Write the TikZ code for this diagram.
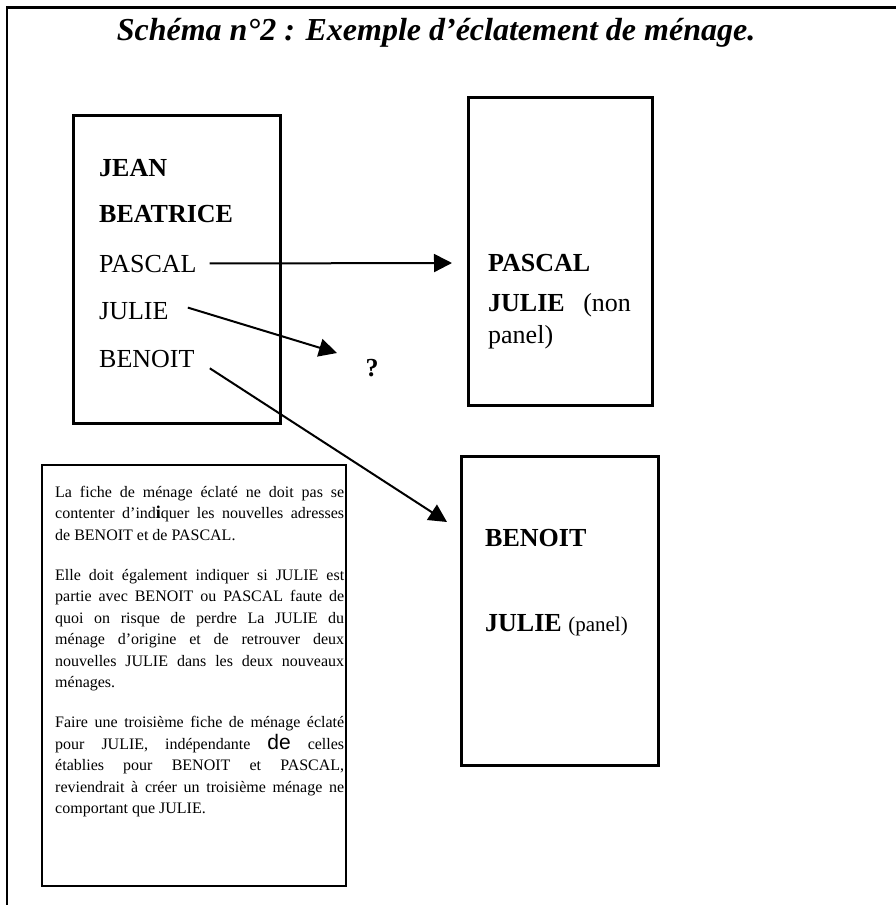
\documentclass[tikz,border=0pt]{standalone}
\usepackage{fontspec}
\setmainfont{Liberation Serif}
\setsansfont{Liberation Sans}
\usetikzlibrary{arrows.meta}
\begin{document}
\begin{tikzpicture}[x=1pt,y=-1pt,
    menage/.style={draw,line width=3pt,inner sep=0pt},
    nom/.style={font=\fontsize{26}{26}\selectfont,anchor=base west,inner sep=0pt},
    fleche/.style={line width=2pt,-{Triangle[length=18pt,width=18pt]}}]
  \useasboundingbox (0,0) rectangle (896,905);
  % cadre
  \draw [line width=1.5pt] (7,905) -- (7,7);
  \draw [line width=3pt] (6,7) -- (896,7);
  \node [font=\fontsize{32}{32}\selectfont\bfseries\itshape] (titre) at (436,33)
        {Schéma n°2 : Exemple d’éclatement de ménage.};
  % menage d'origine
  \node [menage,minimum width=207pt,minimum height=308pt] (origine) at (176.5,269) {};
  \node [nom] (jean) at (99,176) {\bfseries JEAN};
  \node [nom] (beatrice) at (99,222) {\bfseries BEATRICE};
  \node [nom] (pascal) at (99,272) {PASCAL};
  \node [nom] (julie) at (99,319) {JULIE};
  \node [nom] (benoit) at (99,367) {BENOIT};
  % nouveaux menages
  \node [menage,minimum width=184pt,minimum height=308pt] (menageP) at (560,251) {};
  \node [nom] (pascalP) at (488,271) {\bfseries PASCAL};
  \node [nom] (julieP) at (488,311) {\textbf{JULIE}\hspace{12pt} (non};
  \node [nom] (panelP) at (488,343) {panel)};
  \node [menage,minimum width=197pt,minimum height=309pt] (menageB) at (559.5,610.5) {};
  \node [nom] (benoitB) at (485,546) {\bfseries BENOIT};
  \node [nom] (julieB) at (485,631) {\textbf{JULIE} {\fontsize{21}{21}\selectfont(panel)}};
  \node [nom,anchor=base,font=\fontsize{26}{26}\selectfont\bfseries] (question) at (372,376) {?};
  % fleches
  \coordinate (versP) at (452,263);
  \coordinate (versQ) at (337,353);
  \coordinate (versB) at (447,522);
  \draw [fleche,shorten <=13pt] (pascal.east) -- (versP);
  \draw [fleche,shorten <=20pt] (julie.north east) -- (versQ);
  \draw [fleche,shorten <=18pt] (benoit.east) -- (versB);
  % encadre
  \node [draw,line width=2pt,minimum width=304pt,minimum height=421pt] (encadre) at (194,675.5) {};
  \node [anchor=north west,text width=289pt,inner sep=0pt,align=justify,
         font=\fontsize{16}{21.5}\selectfont] (texte) at (55,486)
    {\parskip=18.5pt\tolerance=10000\hbadness=10000
     La fiche de ménage éclaté ne doit pas se\linebreak
     contenter d’ind{\fontsize{18}{21.5}\selectfont\bfseries i}quer les nouvelles adresses\linebreak
     de BENOIT et de PASCAL.\par
     Elle doit également indiquer si JULIE est\linebreak
     partie avec BENOIT ou PASCAL faute de\linebreak
     quoi on risque de perdre La JULIE du\linebreak
     ménage d’origine et de retrouver deux\linebreak
     nouvelles JULIE dans les deux nouveaux\linebreak
     ménages.\par
     Faire une troisième fiche de ménage éclaté\linebreak
     pour JULIE, indépendante {\fontsize{21}{21.5}\selectfont\sffamily de} celles\linebreak
     établies pour BENOIT et PASCAL,\linebreak
     reviendrait à créer un troisième ménage ne\linebreak
     comportant que JULIE.\par};
\end{tikzpicture}
\end{document}
